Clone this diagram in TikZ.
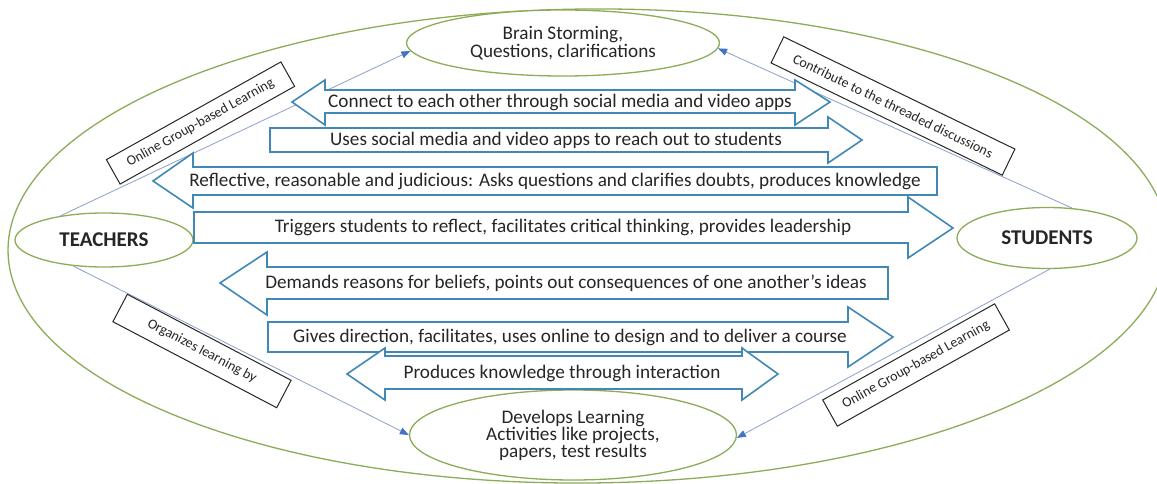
\documentclass[tikz,border=0pt]{standalone}
\usepackage{fontspec}
\setmainfont{Carlito}
\usetikzlibrary{shapes.geometric,arrows.meta}
\definecolor{ellgreen}{RGB}{140,172,88}
\definecolor{arrblue}{RGB}{66,136,180}
\definecolor{lnblue}{RGB}{140,160,200}
\definecolor{tipblue}{RGB}{68,114,196}
\definecolor{txt}{RGB}{38,38,38}
\begin{document}
\begin{tikzpicture}[x=1pt,y=-1pt,
  ell/.style={ellipse, draw=ellgreen, line width=1.3pt, fill=white, inner sep=0pt, text=txt, align=center},
  barrow/.style={draw=arrblue, line width=1.6pt, fill=white, line join=miter},
  atext/.style={font=\fontsize{19.2}{21}\selectfont, text=txt, inner sep=0pt},
  lbl/.style={draw=black!85, line width=1pt, fill=white, inner sep=0pt, font=\fontsize{14}{15}\selectfont, text=txt},
  conn/.style={draw=lnblue, line width=0.8pt, -{Triangle[length=9pt,width=7pt,fill=tipblue,color=tipblue]}}
]
\useasboundingbox (0,0) rectangle (1157,484);
\fill[white] (0,0) rectangle (1157,484);

% outer ellipse
\node[ellipse, draw=ellgreen, line width=1.3pt, minimum width=1160pt, minimum height=474pt, inner sep=0pt, rotate=0.5] (outer) at (588,246) {};

% nodes
\node[ell, minimum width=178pt, minimum height=54pt, font=\fontsize{21}{24}\selectfont\bfseries] (teach) at (104,240) {TEACHERS};
\node[ell, minimum width=180pt, minimum height=61pt, font=\fontsize{21}{24}\selectfont\bfseries] (stud) at (1047,238) {STUDENTS};
\node[ell, minimum width=313pt, minimum height=66pt, font=\fontsize{19.2}{18}\selectfont] (brain) at (563,43) {Brain Storming,\\Questions, clarifications};
\node[ell, minimum width=327pt, minimum height=90pt, font=\fontsize{19.2}{17}\selectfont] (dev) at (573,435) {Develops Learning\\Activities like projects,\\papers, test results};

% connectors
\draw[conn] (teach.151) -- (brain.183);
\draw[conn] (stud.50) -- (brain.-2);
\draw[conn] (teach.220) -- (dev.west);
\draw[conn] (stud.-85) -- (dev.-1);

% label boxes
\node[lbl, rotate=29.25, minimum width=200pt, minimum height=28pt] (l1) at (200.5,123) {Online Group-based Learning};
\node[lbl, rotate=-25.9, minimum width=257pt, minimum height=29pt] (l2) at (893,106) {Contribute to the threaded discussions};
\node[lbl, rotate=-27.7, minimum width=185pt, minimum height=31pt] (l3) at (202,351) {Organizes learning by};
\node[lbl, rotate=29.2, minimum width=197pt, minimum height=30pt] (l4) at (916,365) {Online Group-based Learning};

% block arrows
\draw[barrow] (292,102) -- (325,80) -- (325,90) -- (795,90) -- (795,80) -- (830,102) -- (795,125) -- (795,113) -- (325,113) -- (325,125) -- cycle;
\node[atext] (a1) at (560,102) {Connect to each other through social media and video apps};

\draw[barrow] (270,128) -- (828,128) -- (828,117) -- (862,140) -- (828,163) -- (828,152) -- (270,152) -- cycle;
\node[atext] (a2) at (556,140) {Uses social media and video apps to reach out to students};

\draw[barrow] (153,181) -- (193,153) -- (193,167) -- (937,167) -- (937,195) -- (193,195) -- (193,208) -- cycle;
\node[atext] (a3) at (555,181) {Reflective, reasonable and judicious: Asks questions and clarifies doubts, produces knowledge};

\draw[barrow] (194,212) -- (908,212) -- (908,197) -- (953,228) -- (908,258) -- (908,243) -- (194,243) -- cycle;
\node[atext] (a4) at (563,227) {Triggers students to reflect, facilitates critical thinking, provides leadership};

\draw[barrow] (220,283) -- (267,252) -- (267,267) -- (888,267) -- (888,299) -- (267,299) -- (267,315) -- cycle;
\node[atext] (a5) at (566,283) {Demands reasons for beliefs, points out consequences of one another’s ideas};

\draw[barrow] (268,322) -- (848,322) -- (848,307) -- (893,337) -- (848,367) -- (848,352) -- (268,352) -- cycle;
\node[atext] (a6) at (570,337) {Gives direction, facilitates, uses online to design and to deliver a course};

\draw[barrow] (347,374) -- (385,348) -- (385,356) -- (742,356) -- (742,348) -- (778,374) -- (742,400) -- (742,389) -- (385,389) -- (385,400) -- cycle;
\node[atext] (a7) at (562,373) {Produces knowledge through interaction};
\end{tikzpicture}
\end{document}
